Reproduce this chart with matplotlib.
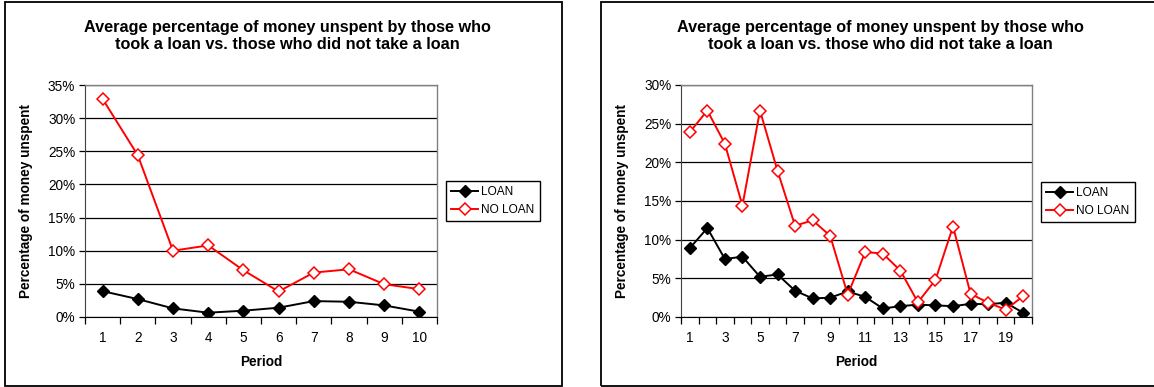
import matplotlib
matplotlib.use('Agg')
import matplotlib.pyplot as plt
from matplotlib.patches import Rectangle
from matplotlib.ticker import PercentFormatter, FixedLocator
import numpy as np

plt.rcParams['font.family'] = ['Liberation Sans', 'DejaVu Sans']

# data (percent of money unspent)
periods_a = list(range(1, 11))
loan_a = [3.9, 2.7, 1.3, 0.65, 0.95, 1.4, 2.4, 2.3, 1.75, 0.8]
noloan_a = [32.9, 24.4, 10.0, 10.8, 7.05, 3.85, 6.7, 7.2, 4.95, 4.2]

periods_b = list(range(1, 21))
loan_b = [8.9, 11.5, 7.5, 7.8, 5.2, 5.5, 3.4, 2.4, 2.5, 3.3,
          2.6, 1.1, 1.4, 1.6, 1.5, 1.4, 1.7, 1.65, 1.85, 0.55]
noloan_b = [23.9, 26.7, 22.4, 14.4, 26.7, 18.9, 11.8, 12.5, 10.5, 2.9,
            8.4, 8.2, 6.0, 1.9, 4.8, 11.7, 3.0, 1.85, 0.95, 2.7]

title = 'Average percentage of money unspent by those who\ntook a loan vs. those who did not take a loan'
series_names = ['LOAN', 'NO LOAN']

W, H = 1154, 387
fig = plt.figure(figsize=(W / 100, H / 100), dpi=100)


def fx(px):
    return px / W


def fy(py):
    return 1 - py / H


def panel(box, plot, legend_xy, title_x, periods, loan, noloan, ymax, label_step):
    x0, y0, x1, y1 = box
    fig.patches.append(Rectangle((fx(x0), fy(y1)), fx(x1 - x0), (y1 - y0) / H,
                                 transform=fig.transFigure, fill=False,
                                 edgecolor='black', lw=1.3))
    px0, py0, px1, py1 = plot
    ax = fig.add_axes([fx(px0), fy(py1), fx(px1 - px0), (py1 - py0) / H])
    ax.plot(periods, loan, color='black', lw=1.4, marker='D', ms=6,
            mfc='black', mec='black', label=series_names[0], zorder=3)
    ax.plot(periods, noloan, color='#ff0000', lw=1.4, marker='D', ms=6,
            mfc='white', mec='#ff0000', mew=1.1, label=series_names[1], zorder=3)
    n = len(periods)
    ax.set_xlim(0.5, n + 0.5)
    ax.set_ylim(0, ymax)
    ax.set_yticks(np.arange(0, ymax + 0.1, 5))
    ax.yaxis.set_major_formatter(PercentFormatter(xmax=100, decimals=0))
    ax.yaxis.grid(True, color='black', lw=0.9)
    ax.set_axisbelow(True)
    ax.set_xticks(periods[::label_step])
    ax.xaxis.set_minor_locator(FixedLocator(np.arange(0.5, n + 1, 1)))
    ax.tick_params(axis='x', which='major', length=0, labelsize=9.8, pad=10)
    ax.tick_params(axis='x', which='minor', length=5, direction='out', width=0.9)
    ax.tick_params(axis='y', length=4, direction='out', width=0.9, labelsize=9.8, pad=3)
    for s in ['top', 'right']:
        ax.spines[s].set_color('#808080')
        ax.spines[s].set_linewidth(1.0)
    ax.spines['left'].set_color('#404040')
    ax.spines['bottom'].set_color('black')
    ax.set_xlabel('Period', fontsize=9.8, fontweight='bold', labelpad=7)
    ax.set_ylabel('Percentage of money unspent', fontsize=9.8, fontweight='bold', labelpad=11)
    fig.text(fx(title_x), fy(36), title, ha='center', va='center',
             fontsize=11.7, fontweight='bold', linespacing=1.22)
    leg = ax.legend(loc='upper left', bbox_to_anchor=(fx(legend_xy[0]), fy(legend_xy[1])),
                    bbox_transform=fig.transFigure, fancybox=False, framealpha=1,
                    edgecolor='black', fontsize=8.6, handlelength=2.2,
                    handletextpad=0.3, borderpad=0.45, labelspacing=0.45,
                    borderaxespad=0)
    leg.get_frame().set_linewidth(1.0)
    return ax


panel((5, 2, 562, 386), (85, 85, 437, 317), (446, 181), 287,
      periods_a, loan_a, noloan_a, 35, 1)
panel((601, 2, 1162, 386), (681, 85, 1032, 317), (1041, 182), 880,
      periods_b, loan_b, noloan_b, 30, 2)

fig.savefig('out.png', dpi=100)
